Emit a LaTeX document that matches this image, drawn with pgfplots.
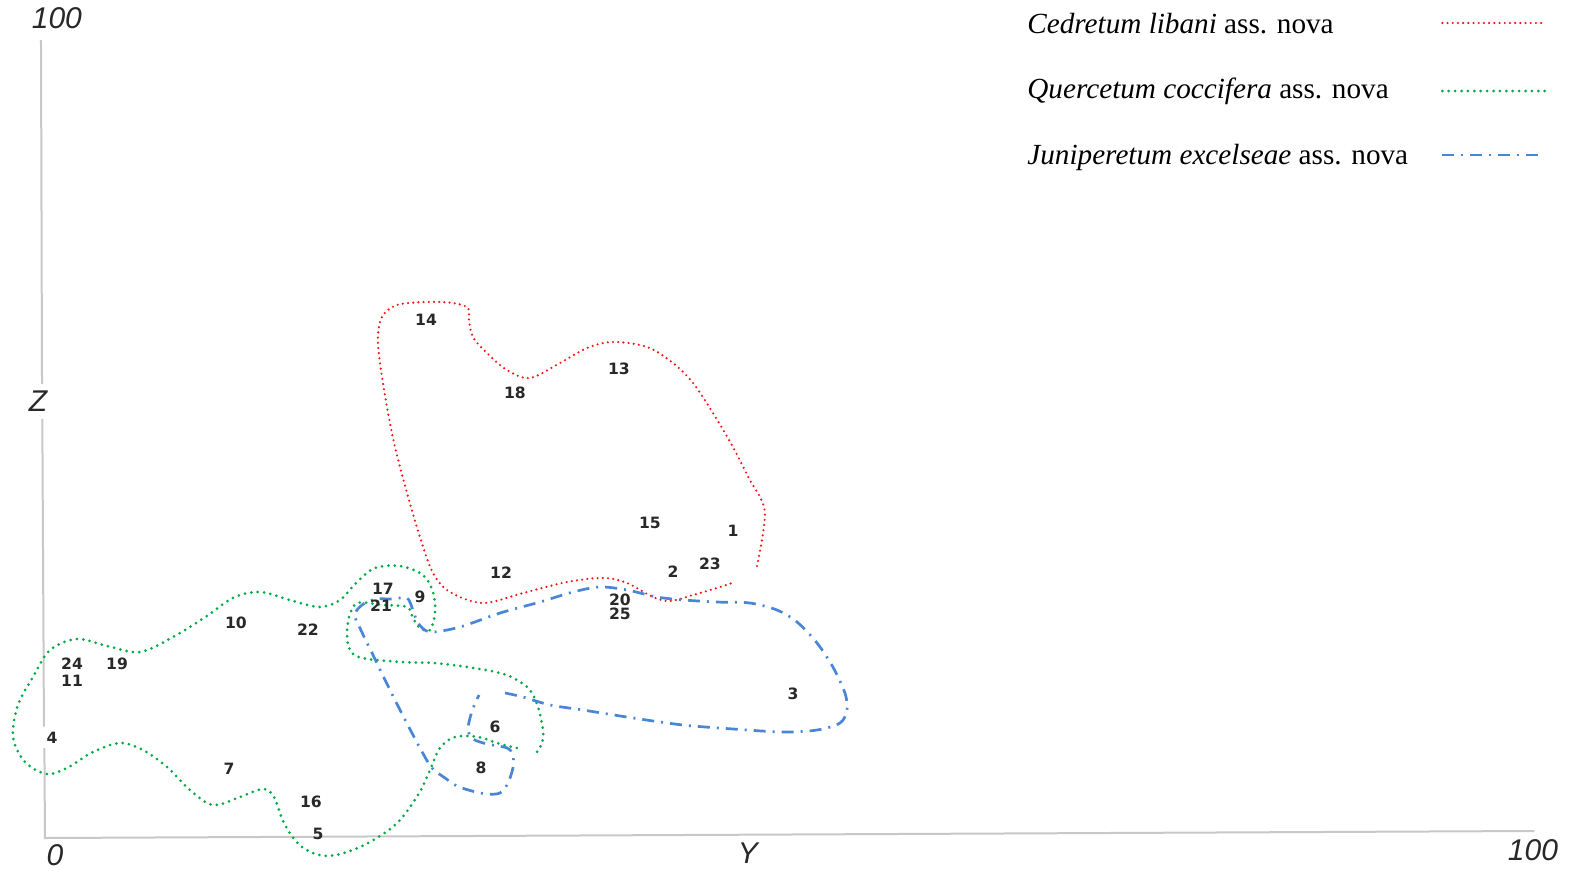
\documentclass[border=0pt]{standalone}
\usepackage{fontspec}
\setmainfont{Liberation Serif}
\newfontfamily\axfont{Liberation Sans}
\newfontfamily\ptfont{DejaVu Sans}
\usepackage{pgfplots}
\pgfplotsset{compat=1.18}
\definecolor{cred}{RGB}{245,20,20}
\definecolor{cgreen}{RGB}{0,170,70}
\definecolor{cblue}{RGB}{74,134,214}
\definecolor{axgray}{RGB}{200,200,200}
\definecolor{txt}{RGB}{40,40,40}
\tikzset{
  reddot/.style={cred, line width=1.2pt, line cap=round, dash pattern=on 0pt off 2.6pt},
  greendot/.style={cgreen, line width=1.5pt, line cap=round, dash pattern=on 0pt off 3.2pt},
  bluedash/.style={cblue, line width=1.35pt, dash pattern=on 6pt off 3.5pt on 1pt off 3.5pt},
}
\begin{document}
\begin{tikzpicture}
\begin{axis}[
  scale only axis, width=742.5pt, height=398.5pt,
  xmin=0, xmax=100, ymin=0, ymax=100,
  axis lines=none, ticks=none, clip=false,
]
% axes
\addplot[axgray, line width=1pt, mark=none] coordinates {(-0.27,99.75) (-0.2,56.6)};
\addplot[axgray, line width=1pt, mark=none] coordinates {(-0.18,52.2) (-0.07,13.6)};
\addplot[axgray, line width=1pt, mark=none] coordinates {(-0.04,10.9) (0,-0.38) (100.3,0.5)};

% Cedretum libani (red)
\addplot[reddot, smooth, tension=0.55, mark=none] coordinates {
(47.95,33.75) (48.28,37.01) (48.48,40.40) (48.15,42.41) (47.47,44.54)
(46.33,48.68) (44.98,52.95) (43.64,56.71) (42.29,59.22) (40.54,61.23)
(38.25,61.86) (36.50,61.10) (34.68,59.22) (32.66,57.34) (31.11,58.34)
(29.76,60.48) (28.82,62.48) (28.55,64.62) (28.49,66.12) (27.47,66.75)
(25.72,66.88) (23.70,66.50) (22.69,64.99) (22.42,62.48) (22.56,59.22)
(23.03,53.70) (23.57,48.68) (24.38,42.91) (25.25,37.39) (26.13,32.87)
(27.27,30.49) (29.49,29.11) (32.19,30.36) (35.15,31.74) (37.58,32.25)
(39.19,31.62) (40.94,29.86) (42.09,29.36) (43.64,30.11) (45.25,30.99)
(46.46,31.74)};

% Quercetum coccifera (green)
\addplot[greendot, smooth, tension=0.55, mark=none] coordinates {
(31.78,10.92) (30.64,11.42) (29.16,12.30) (27.61,12.30) (26.60,10.92)
(25.93,8.16) (25.12,5.02) (23.57,1.25) (21.21,-1.51) (18.99,-2.63)
(17.31,-1.51) (16.16,1.25) (15.42,4.77) (14.68,5.77) (13.13,4.77)
(11.31,3.76) (9.76,5.65) (8.22,8.53) (6.60,10.66) (5.05,11.54)
(3.23,10.41) (1.48,8.41) (0.13,7.65) (-1.35,9.16) (-2.15,12.30)
(-1.82,16.31) (-0.81,19.82) (0.34,23.21) (2.15,24.59) (4.18,23.71)
(6.40,22.96) (8.62,24.84) (10.91,27.48) (12.66,29.74) (14.48,30.49)
(16.70,29.36) (18.52,28.61) (19.87,29.49) (21.01,31.74) (22.22,33.50)
(23.91,33.75) (25.45,32.62) (26.13,30.49) (26.26,27.85) (25.93,25.72)
(25.25,25.97) (24.78,27.23) (24.38,28.61) (22.76,28.86) (21.08,29.11)
(20.54,27.73) (20.34,25.34) (20.54,23.21) (21.35,22.21) (23.91,21.71)
(26.13,21.58) (28.42,21.08) (30.64,20.33) (31.78,19.45) (32.66,18.19)
(33.20,16.06) (33.54,13.17) (33.47,11.54) (33.13,10.41)};

% Juniperetum excelseae (blue)
\addplot[bluedash, smooth, tension=0.5, mark=none] coordinates {
(30.98,17.82) (32.19,17.31) (34.01,16.31) (36.23,15.68) (39.60,14.68)
(42.96,13.80) (46.33,13.30) (49.70,12.92) (51.99,13.17) (53.54,14.05)
(54.01,15.68) (53.87,17.82) (53.06,21.08) (51.99,24.09) (50.64,26.73)
(49.29,28.23) (47.47,29.11) (45.25,29.23) (42.96,29.49) (41.21,29.86)
(39.19,30.74) (37.37,31.12) (35.56,30.49) (33.33,29.23) (30.64,27.85)
(27.95,26.10) (25.93,25.47) (25.12,26.60) (24.78,28.23) (24.38,29.74)
(23.43,29.61) (22.36,29.61) (21.55,29.11) (21.01,28.23) (20.88,27.35)
(21.21,25.97) (21.62,24.34) (22.09,22.58) (22.90,19.45) (23.91,15.68)
(25.25,10.92) (26.06,8.41) (26.94,7.15) (27.74,6.15) (28.75,5.52)
(29.76,5.14) (30.64,5.27) (31.18,6.52) (31.51,8.41) (31.51,10.04)
(31.11,10.92) (29.76,11.42) (28.82,12.05) (28.49,13.17) (28.62,14.68)
(28.89,16.19) (29.23,17.57)};

% releve numbers
\addplot[only marks, mark=none, nodes near coords, point meta=explicit symbolic,
  nodes near coords style={font=\ptfont\bfseries\fontsize{7.8}{8}\selectfont, text=txt, anchor=center, inner sep=0pt}]
  table[meta=label] {
x y label
46.33 38.14 1
42.29 33.00 2
50.37 17.69 3
0.47 12.17 4
18.38 0.13 5
30.30 13.55 6
12.39 8.28 7
29.36 8.41 8
25.25 29.86 9
12.86 26.60 10
1.82 19.32 11
30.71 32.87 12
38.65 58.47 13
25.66 64.62 14
40.74 39.15 15
17.91 4.14 16
22.76 30.87 17
31.65 55.46 18
4.85 21.46 19
38.72 29.45 20
22.63 28.73 21
17.71 25.72 22
44.78 34.00 23
1.82 21.46 24
38.72 27.70 25
};

% axis labels
\node[font=\axfont\itshape\fontsize{15}{18}\selectfont, text=txt] at (axis cs:0.8,102.5) {100};
\node[font=\axfont\itshape\fontsize{15}{18}\selectfont, text=txt] at (axis cs:-0.47,54.45) {Z};
\node[font=\axfont\itshape\fontsize{15}{18}\selectfont, text=txt] at (axis cs:0.67,-2.5) {0};
\node[font=\axfont\itshape\fontsize{15}{18}\selectfont, text=txt] at (axis cs:47.34,-2.26) {Y};
\node[font=\axfont\itshape\fontsize{15}{18}\selectfont, text=txt] at (axis cs:100.2,-1.88) {100};

% legend
\node[anchor=base west, inner sep=0pt, font=\fontsize{14.6}{17}\selectfont] at (axis cs:66.13,100.6) {\textit{Cedretum libani} ass. nova};
\node[anchor=base west, inner sep=0pt, font=\fontsize{14.6}{17}\selectfont] at (axis cs:66.13,92.35) {\textit{Quercetum coccifera} ass. nova};
\node[anchor=base west, inner sep=0pt, font=\fontsize{14.6}{17}\selectfont] at (axis cs:66.13,84.07) {\textit{Juniperetum excelseae} ass. nova};
\addplot[reddot, mark=none] coordinates {(94.1,101.88) (101.0,101.88)};
\addplot[greendot, mark=none] coordinates {(94.1,93.35) (101.0,93.35)};
\addplot[bluedash, mark=none] coordinates {(94.1,85.32) (101.0,85.32)};

\coordinate (bbl) at (axis cs:-3.03,-5.02);
\coordinate (btr) at (axis cs:102.9,104.77);
\end{axis}
\pgfresetboundingbox
\path[use as bounding box] (bbl) rectangle (btr);
\end{tikzpicture}
\end{document}
